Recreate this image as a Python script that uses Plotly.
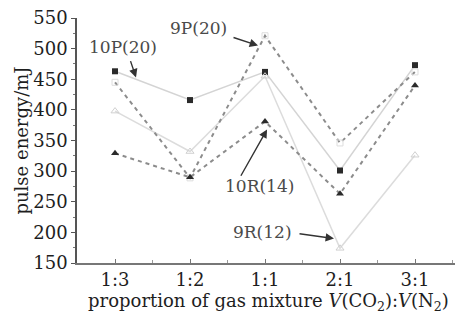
import plotly.graph_objects as go

categories = ["1:3", "1:2", "1:1", "2:1", "3:1"]
p10_20 = [463, 416, 462, 301, 473]
p9_20 = [445, 289, 521, 346, 462]
r10_14 = [329, 290, 381, 263, 440]
r9_12 = [398, 332, 455, 174, 326]

x = list(range(len(categories)))
FONT = "DejaVu Serif, serif"
ink = "#1e1e1e"

fig = go.Figure()
fig.add_trace(go.Scatter(x=x, y=p10_20, mode="lines+markers", name="10P(20)",
                         line=dict(color="#d4d4d4", width=1.5),
                         marker=dict(symbol="square", size=6, color="#2a2a2a")))
fig.add_trace(go.Scatter(x=x, y=r9_12, mode="lines+markers", name="9R(12)",
                         line=dict(color="#dcdcdc", width=1.5),
                         marker=dict(symbol="triangle-up-open", size=7, color="#d0d0d0")))
fig.add_trace(go.Scatter(x=x, y=p9_20, mode="lines+markers", name="9P(20)",
                         line=dict(color="#8c8c8c", width=2, dash="4px,4px"),
                         marker=dict(symbol="square-open", size=6, color="#dddddd")))
fig.add_trace(go.Scatter(x=x, y=r10_14, mode="lines+markers", name="10R(14)",
                         line=dict(color="#8c8c8c", width=2, dash="4px,4px"),
                         marker=dict(symbol="triangle-up", size=7, color="#2a2a2a")))

labels = [
    # text, text x, text y, tail x, tail y, head x, head y
    ("10P(20)", 0.107, 502, 0.20, 482, 0.28, 453),
    ("9P(20)", 1.107, 534, 1.56, 519, 1.907, 505),
    ("10R(14)", 1.933, 276, 1.667, 290, 2.027, 368),
    ("9R(12)", 1.96, 200, 2.44, 198, 2.92, 190),
]
for t, tx, ty, ax, ay, hx, hy in labels:
    fig.add_annotation(x=tx, y=ty, text=t, showarrow=False,
                       font=dict(family=FONT, size=17, color="#4a4a4a"))
    fig.add_annotation(x=hx, y=hy, ax=ax, ay=ay, axref="x", ayref="y", text="",
                       showarrow=True, arrowhead=2, arrowsize=1.2, arrowwidth=1.4,
                       arrowcolor="#333")

fig.update_layout(
    width=455, height=313,
    margin=dict(l=69, r=3, t=10, b=58),
    paper_bgcolor="white", plot_bgcolor="white",
    showlegend=False,
    font=dict(family=FONT, size=18, color=ink),
    xaxis=dict(range=[-0.507, 4.6], tickvals=x, ticktext=categories,
               showgrid=False, zeroline=False, showline=True, linecolor="#777",
               linewidth=1.5, ticks="inside", ticklen=4, tickcolor="#777",
               minor=dict(dtick=0.5, tick0=0, ticks="inside", ticklen=3, tickcolor="#999"),
               tickfont=dict(family=FONT, size=18, color=ink), automargin=False,
               ticklabeloverflow="allow",
               title=dict(text="proportion of gas mixture <i>V</i>(CO<sub>2</sub>):<i>V</i>(N<sub>2</sub>)",
                          font=dict(family=FONT, size=18, color=ink), standoff=0)),
    yaxis=dict(range=[150, 550], dtick=50, showgrid=False, zeroline=False,
               showline=True, linecolor="#555", linewidth=1.5,
               ticks="outside", ticklen=4, tickcolor="#555",
               minor=dict(dtick=25, ticks="outside", ticklen=2, tickcolor="#777"),
               tickfont=dict(family=FONT, size=18, color=ink), automargin=False,
               ticklabeloverflow="allow",
               title=dict(text="pulse energy/mJ", font=dict(family=FONT, size=18, color=ink),
                          standoff=0)),
)
fig.write_html("out.html")
